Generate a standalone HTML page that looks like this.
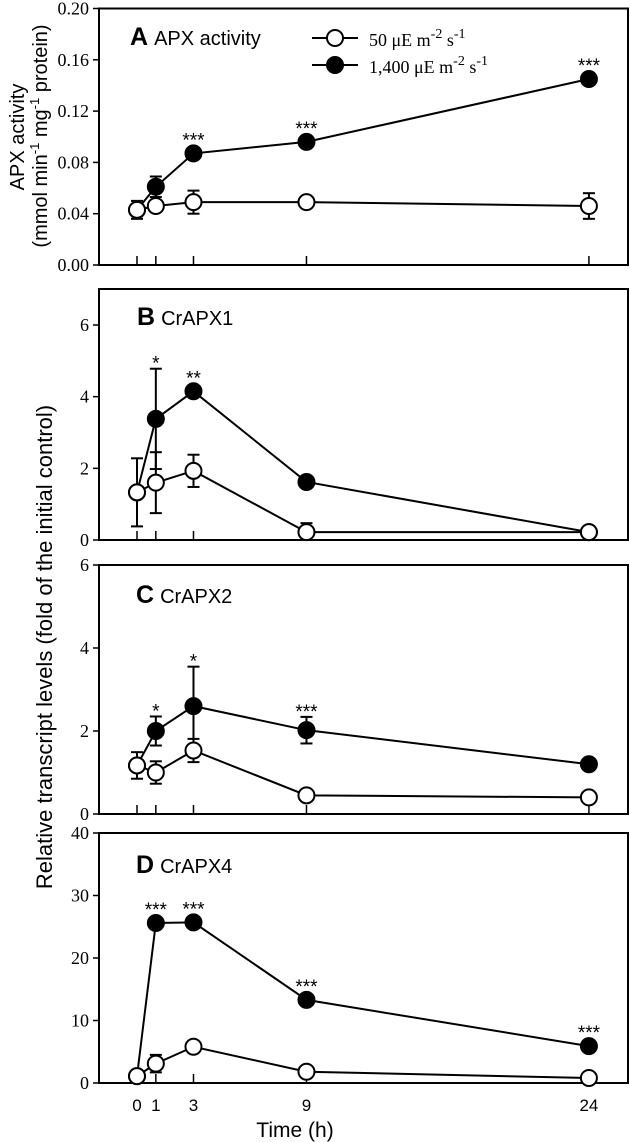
<!DOCTYPE html>
<html><head><meta charset="utf-8"><style>
body{margin:0;background:#fff}
svg{display:block}
.tk{font-family:"Liberation Serif",serif;font-size:18px}
.sn{font-family:"Liberation Sans",sans-serif}
</style></head><body>
<svg id="c" width="630" height="1142" xmlns="http://www.w3.org/2000/svg"></svg>
<script>
const hours = [0, 1, 3, 9, 24];
const xTickLabels = ["0", "1", "3", "9", "24"];
const apxLow = [0.043, 0.046, 0.049, 0.049, 0.046];
const apxLowErr = [0.007, 0.004, 0.009, 0.002, 0.010];
const apxHigh = [0.043, 0.061, 0.087, 0.096, 0.145];
const apxHighErr = [0, 0.008, 0.003, 0.004, 0.002];
const apxStars = ["", "", "***", "***", "***"];
const apx1Low = [1.33, 1.6, 1.93, 0.22, 0.22];
const apx1LowErr = [0.95, 0.85, 0.45, 0.25, 0.05];
const apx1High = [1.33, 3.38, 4.15, 1.62, 0.22];
const apx1HighErr = [0, 1.4, 0.1, 0.1, 0];
const apx1Stars = ["", "*", "**", "", ""];
const apx2Low = [1.17, 1.0, 1.53, 0.45, 0.4];
const apx2LowErr = [0.32, 0.27, 0.28, 0.05, 0.05];
const apx2High = [1.17, 2.0, 2.6, 2.02, 1.2];
const apx2HighErr = [0, 0.35, 0.95, 0.32, 0.05];
const apx2Stars = ["", "*", "*", "***", ""];
const apx4Low = [1.1, 3.1, 5.8, 1.8, 0.8];
const apx4LowErr = [0, 1.4, 0.5, 0.3, 0.1];
const apx4High = [1.1, 25.6, 25.7, 13.3, 5.9];
const apx4HighErr = [0, 0, 0, 0, 0];
const apx4Stars = ["", "***", "***", "***", "***"];
const ticksA = [0, 0.04, 0.08, 0.12, 0.16, 0.20];
const ticksA_lbl = ["0.00", "0.04", "0.08", "0.12", "0.16", "0.20"];
const ticksBC = [0, 2, 4, 6];
const ticksD = [0, 10, 20, 30, 40];

const svg = document.getElementById('c');
const NS = "http://www.w3.org/2000/svg";
function mk(tag, attrs, parent, text) {
  const e = document.createElementNS(NS, tag);
  for (const k in attrs) e.setAttribute(k, attrs[k]);
  if (text !== undefined) e.textContent = text;
  (parent || svg).appendChild(e);
  return e;
}
const X0 = 99, X1 = 628;
const xs = h => 137 + h * 18.83;

const panels = [
  {id: "a", top: 8.5, bottom: 265, max: 0.2, frameTop: 8.5, ticks: ticksA, tl: ticksA_lbl, low: apxLow, lowE: apxLowErr, high: apxHigh, highE: apxHighErr, stars: apxStars, letter: "A", title: "APX activity", lx: 130, ly: 45},
  {id: "b", top: 325, bottom: 540, max: 6, frameTop: 289, ticks: ticksBC, tl: ["0","2","4","6"], low: apx1Low, lowE: apx1LowErr, high: apx1High, highE: apx1HighErr, stars: apx1Stars, letter: "B", title: "CrAPX1", lx: 137, ly: 325},
  {id: "c", top: 565, bottom: 814, max: 6, frameTop: 565, ticks: ticksBC, tl: ["0","2","4","6"], low: apx2Low, lowE: apx2LowErr, high: apx2High, highE: apx2HighErr, stars: apx2Stars, letter: "C", title: "CrAPX2", lx: 136, ly: 603},
  {id: "d", top: 833, bottom: 1083, max: 40, frameTop: 833, ticks: ticksD, tl: ["0","10","20","30","40"], low: apx4Low, lowE: apx4LowErr, high: apx4High, highE: apx4HighErr, stars: apx4Stars, letter: "D", title: "CrAPX4", lx: 136, ly: 873}
];

panels.forEach(p => {
  const g = mk('g', {});
  
  
  const ys = v => p.bottom - v / p.max * (p.bottom - p.top);
  const fr = mk('rect', {x: X0, y: p.frameTop, width: X1 - X0, height: p.bottom - p.frameTop, fill: "none", stroke: "#000", "stroke-width": 2}, g);
  
  
  p.ticks.forEach((t, i) => {
    const y = ys(t);
    mk('line', {x1: X0 - 6, x2: X0, y1: y, y2: y, stroke: "#000", "stroke-width": 1.5}, g);
    const tx = mk('text', {x: 89, y: y + 6, "text-anchor": "end", class: "tk"}, g, p.tl[i]);
    
    
  });
  hours.forEach(h => mk('line', {x1: xs(h), x2: xs(h), y1: p.bottom, y2: p.bottom - 9, stroke: "#000", "stroke-width": 1.5}, g));
  const series = [[p.high, p.highE, "#000", "high-light"], [p.low, p.lowE, "#fff", "low-light"]];
  series.forEach(([vals, errs, fill, nm]) => {
    const pts = vals.map((v, i) => xs(hours[i]) + "," + ys(v)).join(" ");
    const l = mk('polyline', {points: pts, fill: "none", stroke: "#000", "stroke-width": 2}, g);
    
    
    vals.forEach((v, i) => {
      const x = xs(hours[i]);
      if (errs[i] > 0) {
        const y1 = ys(v + errs[i]), y2 = ys(Math.max(0, v - errs[i]));
        mk('line', {x1: x, x2: x, y1: y1, y2: y2, stroke: "#000", "stroke-width": 2}, g);
        mk('line', {x1: x - 6, x2: x + 6, y1: y1, y2: y1, stroke: "#000", "stroke-width": 2}, g);
        mk('line', {x1: x - 6, x2: x + 6, y1: y2, y2: y2, stroke: "#000", "stroke-width": 2}, g);
      }
      const c = mk('circle', {cx: x, cy: ys(v), r: 8, fill: fill, stroke: "#000", "stroke-width": 2}, g);
      
      
    });
  });
  p.stars.forEach((s, i) => {
    if (!s) return;
    const v = Math.max(p.high[i] + p.highE[i], p.low[i] + p.lowE[i]);
    const top = Math.min(ys(v), ys(p.high[i]) - 8);
    const st = mk('text', {x: xs(hours[i]), y: top + 1, "text-anchor": "middle", class: "sn", "font-size": 19}, g, s);
    
    
  });
  const lt = mk('text', {x: p.lx, y: p.ly, class: "sn", "font-size": 20}, g);
  
  
  mk('tspan', {"font-weight": "bold", "font-size": 25}, lt, p.letter);
  mk('tspan', {dx: 6}, lt, p.title);
});

hours.forEach((h, i) => {
  const t = mk('text', {x: xs(h), y: 1111, "text-anchor": "middle", class: "sn", "font-size": 17}, svg, xTickLabels[i]);
  
  
});
</script>
<svg width="630" height="1142" style="position:absolute;left:0;top:0" xmlns="http://www.w3.org/2000/svg">
  <text x="295" y="1137" text-anchor="middle" class="sn" font-size="21">Time (h)</text>
  <text transform="translate(24,137) rotate(-90)" text-anchor="middle" class="sn" font-size="20">APX activity</text>
  <text transform="translate(47,136) rotate(-90)" text-anchor="middle" class="sn" font-size="20">(mmol min<tspan dy="-8" font-size="13">-1</tspan><tspan dy="8"> mg</tspan><tspan dy="-8" font-size="13">-1</tspan><tspan dy="8"> protein)</tspan></text>
  <text transform="translate(52,647) rotate(-90)" text-anchor="middle" class="sn" font-size="22">Relative transcript levels (fold of the initial control)</text>
  <g>
    <line x1="312" x2="358" y1="38" y2="38" stroke="#000" stroke-width="2"/>
    <circle cx="335" cy="38" r="8" fill="#fff" stroke="#000" stroke-width="2"/>
    <text x="369" y="46" class="tk" font-size="21">50 μE m<tspan dy="-8" font-size="14">-2</tspan><tspan dy="8"> s</tspan><tspan dy="-8" font-size="14">-1</tspan></text>
    <line x1="312" x2="358" y1="65" y2="65" stroke="#000" stroke-width="2"/>
    <circle cx="335" cy="65" r="8" fill="#000" stroke="#000" stroke-width="2"/>
    <text x="369" y="73" class="tk" font-size="21">1,400 μE m<tspan dy="-8" font-size="14">-2</tspan><tspan dy="8"> s</tspan><tspan dy="-8" font-size="14">-1</tspan></text>
  </g>
</svg>
</body></html>
